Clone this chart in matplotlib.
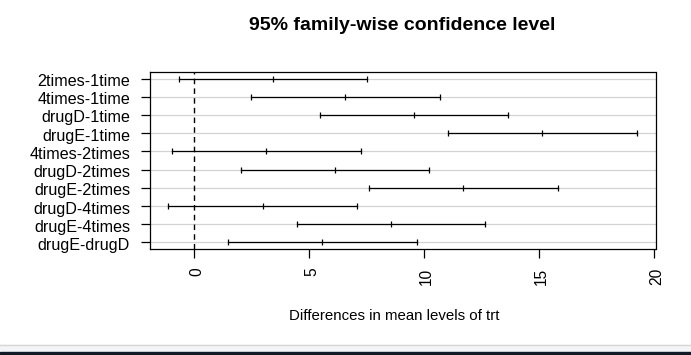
import matplotlib
matplotlib.use("Agg")
import matplotlib.pyplot as plt
from matplotlib.patches import Rectangle
from matplotlib.lines import Line2D
from matplotlib.transforms import ScaledTranslation

comparisons = ["2times-1time", "4times-1time", "drugD-1time", "drugE-1time",
               "4times-2times", "drugD-2times", "drugE-2times", "drugD-4times",
               "drugE-4times", "drugE-drugD"]
diff = [3.44300, 6.59281, 9.57920, 15.16555, 3.14981, 6.13620, 11.72255, 2.98639, 8.57274, 5.58635]
lwr = [-0.6582817, 2.4915283, 5.4779183, 11.0642683, -0.9514717, 2.0349183, 7.6212683, -1.1148917, 4.4714583, 1.4850683]
upr = [7.544282, 10.694092, 13.680482, 19.266832, 7.251092, 10.237482, 15.823832, 7.087672, 12.674022, 9.687632]
xticks = [0, 5, 10, 15, 20]

plt.rcParams['font.family'] = ['Liberation Sans', 'DejaVu Sans']

W, H = 691, 355
fig = plt.figure(figsize=(W/100, H/100), dpi=100)
L, R, T, B = 149.5, 655.5, 72, 249
ax = fig.add_axes([L/W, 1-B/H, (R-L)/W, (B-T)/H])

n = len(comparisons)
ys = list(range(n, 0, -1))
for y in ys:
    ax.axhline(y, color='#d3d3d3', lw=0.9, zorder=0)
ax.axvline(0, color='black', lw=1.0, ls=(0, (4, 3)), zorder=1)
for y, d, lo, hi in zip(ys, diff, lwr, upr):
    ax.plot([lo, hi], [y, y], color='black', lw=0.9, zorder=2)
    ax.plot([lo, d, hi], [y, y, y], ls='none', marker='|', ms=5, mew=0.9, color='black', zorder=3)

lo_all = min(lwr); hi_all = max(upr)
pad = 0.04*(hi_all-lo_all)
ax.set_xlim(lo_all-pad, hi_all+pad)
ax.set_ylim(1-0.04*(n-1), n+0.04*(n-1))
ax.set_yticks(ys)
ax.set_yticklabels(comparisons, fontsize=11.6)
ax.set_xticks(xticks)
ax.set_xticklabels([str(v) for v in xticks], rotation=90, fontsize=11.2)
ax.tick_params(axis='both', direction='out', length=6.5, width=0.9, color='black')
ax.tick_params(axis='x', pad=7)
ax.tick_params(axis='y', pad=7.5)
for s in ax.spines.values():
    s.set_linewidth(0.9)

offx = ScaledTranslation(3/100, 0, fig.dpi_scale_trans)
for lab in ax.get_xticklabels():
    lab.set_transform(lab.get_transform() + offx)
offy = ScaledTranslation(0, -1.5/100, fig.dpi_scale_trans)
for lab in ax.get_yticklabels():
    lab.set_transform(lab.get_transform() + offy)

fig.text(402.5/W, 1-25/H, "95% family-wise confidence level", ha='center', va='center',
         fontsize=14, fontweight='bold')
fig.text(394/W, 1-316/H, "Differences in mean levels of trt", ha='center', va='center', fontsize=10.8)

# screenshot bottom bands
fig.add_artist(Rectangle((0, 0), 1, 10/H, transform=fig.transFigure, color='#f3f4f6', zorder=-1))
fig.add_artist(Line2D([0, 1], [10.5/H, 10.5/H], transform=fig.transFigure, color='#d6d6d6', lw=1))
fig.add_artist(Rectangle((0, 0), 1, 3.5/H, transform=fig.transFigure, color='#111827', zorder=0))

fig.savefig("out.png", dpi=100)
